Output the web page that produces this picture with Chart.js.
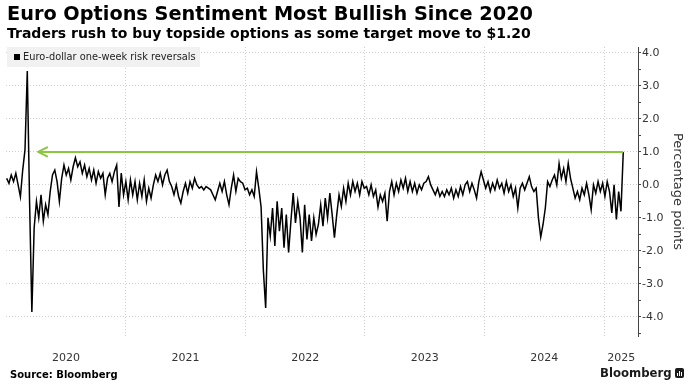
<!DOCTYPE html>
<html>
<head>
<meta charset="utf-8">
<script src="https://cdn.jsdelivr.net/npm/chart.js@4.4.1/dist/chart.umd.min.js"></script>
<style>
  body { margin: 0; background: #fff; }
  #wrap { position: relative; width: 693px; height: 392px; overflow: hidden; font-family: "DejaVu Sans", sans-serif; }
  #wrap canvas { position: absolute; left: 0; top: 0; }
  .title { position: absolute; left: 7px; top: 2px; font-weight: bold; font-size: 19.3px; color: #000; white-space: nowrap; }
  .subtitle { position: absolute; left: 7px; top: 25px; font-weight: bold; font-size: 14px; color: #000; white-space: nowrap; }
  .legend { position: absolute; left: 7px; top: 47px; height: 20px; width: 193px; background: #f1f1f1; font-size: 9.8px; color: #222; line-height: 20px; white-space: nowrap; }
  .legend i { display: inline-block; width: 6px; height: 6px; background: #000; margin: 0 3px 0 7px; }
  .source { position: absolute; left: 10px; top: 369px; font-weight: bold; font-size: 10px; color: #000; }
  .brand { position: absolute; left: 600px; top: 366px; font-weight: bold; font-size: 11.7px; color: #1a1a1a; }
  .logo { position: absolute; left: 675px; top: 368px; width: 9px; height: 10px; background: #1a1a1a; border-radius: 2px; }
  .logo b { position: absolute; bottom: 2px; width: 1px; background: #fff; }
</style>
</head>
<body>
<div id="wrap">
  <canvas id="chart" width="693" height="392"></canvas>
  <div class="title">Euro Options Sentiment Most Bullish Since 2020</div>
  <div class="subtitle">Traders rush to buy topside options as some target move to $1.20</div>
  <div class="legend"><i></i>Euro-dollar one-week risk reversals</div>
  <div class="source">Source: Bloomberg</div>
  <div class="brand">Bloomberg</div>
  <div class="logo"><b style="left:2px;height:3px"></b><b style="left:4px;height:5px"></b><b style="left:6px;height:4px"></b></div>
</div>
<script>
// weekly readings (Fridays), percentage points
const firstFriday = { 2020: '2020-01-03', 2021: '2021-01-01', 2022: '2022-01-07', 2023: '2023-01-06', 2024: '2024-01-05', 2025: '2025-01-03' };

const rr2020 = [0.2, 0.05, 0.3, 0.1, 0.35, 0.0, -0.36, 0.45, 1.06, 3.45,
  -0.5, -3.85, -1.3, -0.5, -1.0, -0.3, -1.1, -0.6, -0.9, -0.2,
  0.3, 0.45, 0.1, -0.5, 0.2, 0.6, 0.3, 0.5, 0.15, 0.55,
  0.82, 0.55, 0.7, 0.35, 0.6, 0.25, 0.5, 0.15, 0.45, 0.05,
  0.4, 0.2, 0.35, -0.3, 0.2, 0.35, 0.1, 0.4, 0.6, -0.67,
  0.36, -0.3];
const rr2021 = [0.1, -0.45, 0.15, -0.3, 0.1, -0.45, 0.05, -0.35, 0.15, -0.5,
  -0.1, -0.4, 0.0, 0.3, 0.1, 0.35, 0.0, 0.3, 0.45, 0.1,
  -0.05, -0.3, 0.0, -0.35, -0.55, -0.2, 0.05, -0.25, 0.1, -0.1,
  0.2, 0.0, -0.1, -0.05, -0.15, -0.05, -0.1, -0.15, -0.3, -0.45,
  -0.2, 0.05, -0.2, 0.1, -0.3, -0.6, -0.1, 0.3, -0.2, 0.2,
  0.1, 0.05, -0.15];
const rr2022 = [-0.1, -0.3, -0.15, -0.35, 0.4, -0.1, -0.67, -2.6, -3.73, -1.0,
  -1.55, -0.7, -1.85, -0.5, -1.4, -0.7, -1.9, -0.9, -2.05, -1.1,
  -0.25, -1.15, -0.5, -1.0, -2.05, -0.6, -1.65, -0.9, -1.7, -1.0,
  -1.5, -1.2, -0.6, -1.25, -0.4, -1.0, -0.25, -0.9, -1.6, -0.9,
  -0.3, -0.65, -0.1, -0.5, 0.05, -0.3, 0.1, -0.2, 0.05, -0.3,
  0.1, -0.1];
const rr2023 = [-0.05, -0.3, 0.0, -0.35, -0.15, -0.67, -0.3, -0.5, -0.25, -1.1,
  -0.2, 0.1, -0.3, 0.05, -0.2, 0.15, -0.1, 0.2, -0.2, 0.1,
  -0.2, 0.05, -0.25, 0.0, -0.15, 0.05, 0.1, 0.25, 0.0, -0.15,
  -0.3, -0.1, -0.35, -0.2, -0.35, -0.15, -0.3, -0.1, -0.4, -0.15,
  -0.35, -0.05, -0.3, 0.0, 0.1, -0.2, 0.05, -0.15, -0.4, 0.1,
  0.4, 0.15];
const rr2024 = [-0.1, 0.1, -0.2, 0.05, -0.15, 0.15, -0.1, 0.05, -0.25, 0.1,
  -0.2, 0.0, -0.35, -0.1, -0.7, -0.1, 0.05, -0.15, 0.05, 0.25,
  -0.05, -0.2, -0.1, -1.0, -1.58, -1.2, -0.7, 0.1, -0.05, 0.15,
  0.3, 0.0, 0.65, 0.2, 0.5, 0.1, 0.65, 0.2, -0.1, -0.4,
  -0.2, -0.45, -0.1, -0.3, 0.05, -0.3, -0.75, 0.0, -0.25, 0.1,
  -0.2, 0.05];
const rr2025 = [-0.35, 0.1, -0.2, -0.85, 0.0, -1.05, -0.2, -0.8, 1.0];

const yearLabels = ['2020', '2021', '2022', '2023', '2024', '2025'];
const yearStarts = ['2020-01-01', '2021-01-01', '2022-01-01', '2023-01-01', '2024-01-01', '2025-01-01'];
const axisEnd = '2025-04-14';
const yTicks = [-4.5, -4, -3.5, -3, -2.5, -2, -1.5, -1, -0.5, 0, 0.5, 1, 1.5, 2, 2.5, 3, 3.5, 4];

// green marker: "most bullish since" level
const arrowFrom = '2020-04-08';
const arrowLevel = 1.0;

const green = '#8cc63f';
const gridGrey = '#d0d0d0';
const origin = Date.UTC(2020, 0, 1);
function dayNum(iso) {
  const p = iso.split('-').map(Number);
  return (Date.UTC(p[0], p[1] - 1, p[2]) - origin) / 86400000;
}

const points = [];
[[2020, rr2020], [2021, rr2021], [2022, rr2022], [2023, rr2023], [2024, rr2024], [2025, rr2025]].forEach(([yr, vals]) => {
  const d0 = dayNum(firstFriday[yr]);
  vals.forEach((v, k) => points.push({ x: d0 + 7 * k, y: v }));
});
const lastDay = points[points.length - 1].x;
const xMax = dayNum(axisEnd);

const gridDays = yearStarts.slice(1).map(dayNum);
const labelAt = {};
yearStarts.forEach((s, i) => {
  const a = dayNum(s);
  const b = i < yearStarts.length - 1 ? dayNum(yearStarts[i + 1]) : xMax;
  labelAt[(a + b) / 2] = yearLabels[i];
});
const xTickValues = gridDays.concat(Object.keys(labelAt).map(Number)).sort((a, b) => a - b);

const arrowHead = {
  id: 'arrowHead',
  afterDatasetsDraw(chart) {
    const p = chart.getDatasetMeta(0).data[0];
    const ctx = chart.ctx;
    ctx.save();
    ctx.strokeStyle = green;
    ctx.lineWidth = 2;
    ctx.lineCap = 'round';
    ctx.lineJoin = 'round';
    ctx.beginPath();
    ctx.moveTo(p.x + 9, p.y - 4.5);
    ctx.lineTo(p.x, p.y);
    ctx.lineTo(p.x + 9, p.y + 4.5);
    ctx.stroke();
    ctx.restore();
  }
};

Chart.defaults.font.family = '"DejaVu Sans", sans-serif';
Chart.defaults.color = '#333';

new Chart(document.getElementById('chart'), {
  type: 'line',
  data: {
    datasets: [{
      label: 'arrow',
      data: [{ x: dayNum(arrowFrom), y: arrowLevel }, { x: lastDay, y: arrowLevel }],
      borderColor: green,
      borderWidth: 2,
      pointRadius: 0,
      order: 0
    }, {
      label: 'Euro-dollar one-week risk reversals',
      data: points,
      borderColor: '#000',
      borderWidth: 1.5,
      pointRadius: 0,
      tension: 0,
      order: 1
    }]
  },
  options: {
    responsive: false,
    devicePixelRatio: 1,
    animation: false,
    events: [],
    layout: { padding: { left: 6, top: 47, right: 0, bottom: 0 } },
    plugins: { legend: { display: false }, tooltip: { enabled: false } },
    scales: {
      x: {
        type: 'linear',
        min: 0,
        max: xMax,
        afterBuildTicks: s => { s.ticks = xTickValues.map(v => ({ value: v })); },
        afterFit: s => { s.height = 56; },
        ticks: {
          autoSkip: false,
          maxRotation: 0,
          padding: 16,
          font: { size: 11 },
          color: '#333',
          callback: v => labelAt[v] || ''
        },
        grid: {
          drawTicks: false,
          color: ctx => gridDays.includes(ctx.tick.value) ? gridGrey : 'rgba(0,0,0,0)'
        },
        border: { display: false, dash: [1, 2] }
      },
      y: {
        position: 'right',
        min: -4.58,
        max: 4.18,
        afterBuildTicks: s => { s.ticks = yTicks.map(v => ({ value: v })); },
        afterFit: s => { s.width = 55; },
        ticks: {
          autoSkip: false,
          padding: 1,
          font: { size: 11 },
          color: '#333',
          callback: v => Number.isInteger(v) ? v.toFixed(1) : ''
        },
        grid: {
          tickLength: 3,
          tickColor: '#444',
          color: ctx => Number.isInteger(ctx.tick.value) ? gridGrey : 'rgba(0,0,0,0)'
        },
        border: { display: true, color: '#444', width: 1, dash: [1, 2] },
        title: {
          display: true,
          text: 'Percentage points',
          font: { size: 13 },
          color: '#333',
          padding: { top: 8, bottom: 0 }
        }
      }
    }
  },
  plugins: [arrowHead]
});
</script>
</body>
</html>
